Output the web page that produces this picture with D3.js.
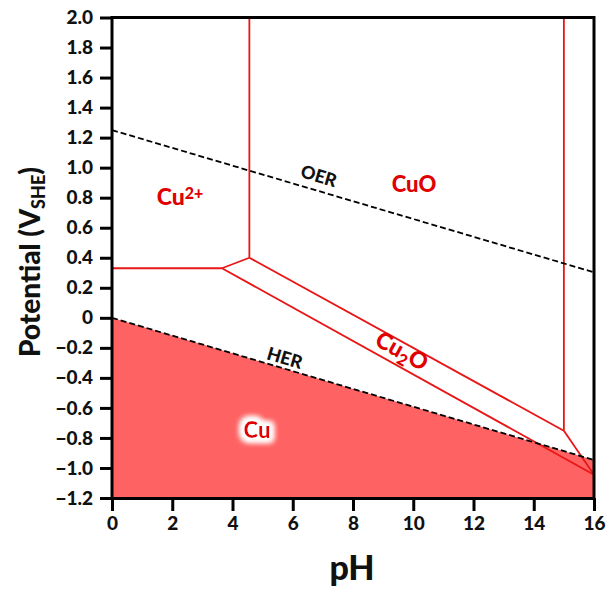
<!DOCTYPE html>
<html><head><meta charset="utf-8">
<script src="https://cdn.jsdelivr.net/npm/d3@7"></script>
<style>
body{margin:0;background:#fff;}
text{font-family:Lato,"Open Sans",sans-serif;font-weight:900;}
</style></head>
<body><svg id="c" width="609" height="601"></svg>
<script>
const xTicks=[0,2,4,6,8,10,12,14,16];
const yTicks=[-1.2,-1.0,-0.8,-0.6,-0.4,-0.2,0,0.2,0.4,0.6,0.8,1.0,1.2,1.4,1.6,1.8,2.0];
const oerLine=[[0,1.25],[16,0.303]];
const herLine=[[0,0],[16,-0.947]];
const cuRegion=[[0,0],[16,-0.947],[16,-1.2],[0,-1.2]];
const boundaries=[
  [[0,0.33],[3.65,0.33]],
  [[3.65,0.33],[4.56,0.40]],
  [[4.56,0.40],[4.56,2.0]],
  [[4.56,0.40],[15.0,-0.752]],
  [[15.0,-0.752],[15.0,2.0]],
  [[3.65,0.33],[16,-1.045]],
  [[15.0,-0.752],[16,-1.045]]
];

const svg=d3.select("#c");
const x=d3.scaleLinear().domain([0,16]).range([112,594]);
const y=d3.scaleLinear().domain([-1.2,2.0]).range([498,17.5]);
const line=d3.line().x(d=>x(d[0])).y(d=>y(d[1]));

const defs=svg.append("defs");
const f=defs.append("filter").attr("id","glow").attr("x","-50%").attr("y","-50%").attr("width","200%").attr("height","200%");
f.append("feMorphology").attr("in","SourceAlpha").attr("operator","dilate").attr("radius",3).attr("result","d");
f.append("feGaussianBlur").attr("in","d").attr("stdDeviation",3).attr("result","b");
f.append("feFlood").attr("flood-color","#fff");
f.append("feComposite").attr("in2","b").attr("operator","in").attr("result","g");
const m=f.append("feMerge");
m.append("feMergeNode").attr("in","g");
m.append("feMergeNode").attr("in","g");
m.append("feMergeNode").attr("in","g");
m.append("feMergeNode").attr("in","SourceGraphic");

svg.append("path").attr("d",line(cuRegion)+"Z").attr("fill","#ff6262");

svg.selectAll(".bd").data(boundaries).enter().append("path")
  .attr("d",d=>line(d)).attr("fill","none").attr("stroke","#e81616").attr("stroke-width",1.8);

[oerLine,herLine].forEach(l=>{
  svg.append("path").attr("d",line(l)).attr("fill","none").attr("stroke","#000")
    .attr("stroke-width",1.8).attr("stroke-dasharray","6,3");
});

// frame top/right
svg.append("line").attr("x1",x(0)).attr("x2",x(16)).attr("y1",y(2)).attr("y2",y(2)).attr("stroke","#000").attr("stroke-width",3);
svg.append("line").attr("x1",x(16)).attr("x2",x(16)).attr("y1",y(2)-1.5).attr("y2",y(-1.2)).attr("stroke","#000").attr("stroke-width",3);

const fmtY=v=>Math.abs(v)<1e-9?"0":d3.format(".1f")(v);
const ya=svg.append("g").attr("transform",`translate(${x(0)},0)`)
  .call(d3.axisLeft(y).tickValues(yTicks).tickFormat(fmtY).tickSize(12).tickPadding(7).tickSizeOuter(0));
const xa=svg.append("g").attr("transform",`translate(0,${y(-1.2)})`)
  .call(d3.axisBottom(x).tickValues(xTicks).tickFormat(d3.format("d")).tickSize(13).tickPadding(6).tickSizeOuter(0));
[ya,xa].forEach(a=>{
  a.selectAll("path,line").attr("stroke","#000").attr("stroke-width",3);
  a.selectAll("text").attr("fill","#111").style("font-size","19px").style("font-weight","900").style("font-family","Lato,'Open Sans',sans-serif");
});
ya.select(".domain").attr("d",`M0,${y(2)-1.5}V${y(-1.2)+1.5}`);

svg.append("text").attr("x",352).attr("y",580).attr("text-anchor","middle")
  .style("font-size","34px").attr("fill","#111").text("pH");
const yt=svg.append("text").attr("transform","translate(40,262) rotate(-90)").attr("text-anchor","middle")
  .style("font-size","28px").attr("fill","#111");
yt.append("tspan").text("Potential (V");
yt.append("tspan").attr("baseline-shift","-25%").style("font-size","18px").text("SHE");
yt.append("tspan").text(")");

const red="#e00000";
const c2=svg.append("text").attr("x",180).attr("y",205).attr("text-anchor","middle").attr("fill",red).style("font-size","23px");
c2.append("tspan").text("Cu");
c2.append("tspan").attr("baseline-shift","35%").style("font-size","16px").text("2+");
svg.append("text").attr("x",414).attr("y",192).attr("text-anchor","middle").attr("fill",red).style("font-size","22px").text("CuO");
const c2o=svg.append("text").attr("transform","translate(398,358) rotate(29)").attr("text-anchor","middle").attr("fill",red).style("font-size","23px");
c2o.append("tspan").text("Cu");
c2o.append("tspan").attr("baseline-shift","-30%").style("font-size","16px").text("2");
c2o.append("tspan").text("O");
svg.append("text").attr("transform","translate(317,182) rotate(16.5)").attr("text-anchor","middle").attr("fill","#111").style("font-size","18px").text("OER");
svg.append("text").attr("transform","translate(283,364) rotate(16.5)").attr("text-anchor","middle").attr("fill","#111").style("font-size","18px").text("HER");
svg.append("text").attr("x",257).attr("y",438).attr("text-anchor","middle").attr("fill",red).style("font-size","22px").attr("filter","url(#glow)").text("Cu");
</script></body></html>
